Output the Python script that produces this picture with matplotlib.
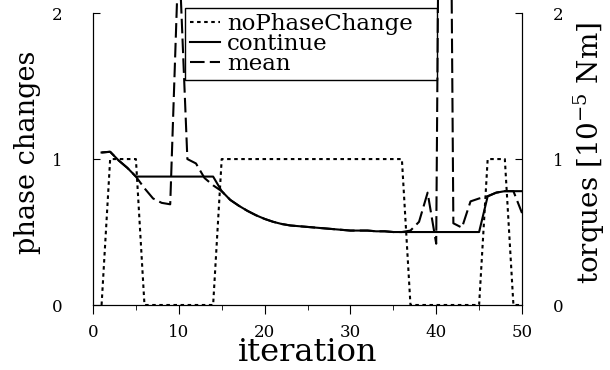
import matplotlib
matplotlib.use('Agg')
import matplotlib.pyplot as plt

plt.rcParams['font.family'] = 'DejaVu Serif'

iteracoes = list(range(1, 51))

# fases: 1 = sem troca de fase naquela iteracao
noPhaseChange = [0, 1, 1, 1, 1, 0, 0, 0, 0, 0,
                 0, 0, 0, 0, 1, 1, 1, 1, 1, 1,
                 1, 1, 1, 1, 1, 1, 1, 1, 1, 1,
                 1, 1, 1, 1, 1, 1, 0, 0, 0, 0,
                 0, 0, 0, 0, 0, 1, 1, 1, 0, 0]

# torques em 10^-5 Nm
continua = [1.045, 1.05, 0.99, 0.94, 0.88, 0.88, 0.88, 0.88, 0.88, 0.88,
            0.88, 0.88, 0.88, 0.88, 0.78, 0.72, 0.68, 0.645, 0.615, 0.59,
            0.57, 0.555, 0.545, 0.54, 0.535, 0.53, 0.525, 0.52, 0.515, 0.51,
            0.51, 0.51, 0.505, 0.505, 0.50, 0.50, 0.50, 0.50, 0.50, 0.50,
            0.50, 0.50, 0.50, 0.50, 0.50, 0.745, 0.77, 0.78, 0.78, 0.78]

media = [1.045, 1.05, 0.99, 0.94, 0.88, 0.80, 0.73, 0.70, 0.69, 2.45,
         1.0, 0.97, 0.87, 0.82, 0.78, 0.72, 0.68, 0.645, 0.615, 0.59,
         0.57, 0.555, 0.545, 0.54, 0.535, 0.53, 0.525, 0.52, 0.515, 0.51,
         0.51, 0.51, 0.505, 0.505, 0.50, 0.50, 0.51, 0.57, 0.77, 0.42,
         8.5, 0.56, 0.53, 0.71, 0.73, 0.745, 0.77, 0.78, 0.78, 0.63]

fig = plt.figure(figsize=(6.1, 3.7), dpi=100)
ax = fig.add_axes([93/610, 65/370, 429/610, 305/370])
ax2 = ax.twinx()

l1, = ax.plot(iteracoes, noPhaseChange, color='black', lw=1.5, ls=(0, (1.7, 1.7)))
l2, = ax2.plot(iteracoes, continua, color='black', lw=1.5)
l3, = ax2.plot(iteracoes, media, color='black', lw=1.5, ls=(0, (7, 2.5)))

for a in (ax, ax2):
    a.set_xlim(0, 50)
    a.set_ylim(0, 2.09)
    a.set_yticks([0, 1, 2])
    a.spines['top'].set_visible(False)
    a.spines['left'].set_bounds(0, 2)
    a.spines['right'].set_bounds(0, 2)
    a.spines['bottom'].set_bounds(0, 50)

ax.set_xticks([0, 10, 20, 30, 40, 50])
ax.set_xticks(range(5, 50, 10), minor=True)
ax.tick_params(axis='x', direction='out', length=6.5, labelsize=12, pad=7)
ax.tick_params(axis='x', which='minor', direction='out', length=3.5)
ax.tick_params(axis='y', direction='in', length=5, labelsize=12, pad=22)
ax2.tick_params(axis='y', direction='in', length=5, labelsize=12, pad=22)

ax.set_xlabel('iteration', fontsize=23, labelpad=-3)
ax.set_ylabel('phase changes', fontsize=19.5, labelpad=8)
ax2.set_ylabel('torques [10$^{\\mathregular{-5}}$ Nm]', fontsize=20, labelpad=5.5)

# caixa da legenda esticada ate perto do pico em x=40
leg = ax.legend([l1, l2, l3], ['noPhaseChange', 'continue', 'mean'],
                loc='upper left', bbox_to_anchor=(0.215, 0.5, 0.587, 0.474),
                mode='expand', borderaxespad=0,
                fontsize=16.5, fancybox=False, edgecolor='black', framealpha=1,
                labelspacing=-0.08, borderpad=0.22, handlelength=1.3, handletextpad=0.3)
leg.get_frame().set_linewidth(1.0)
leg.set_zorder(5)

fig.savefig('out.png', dpi=100)
